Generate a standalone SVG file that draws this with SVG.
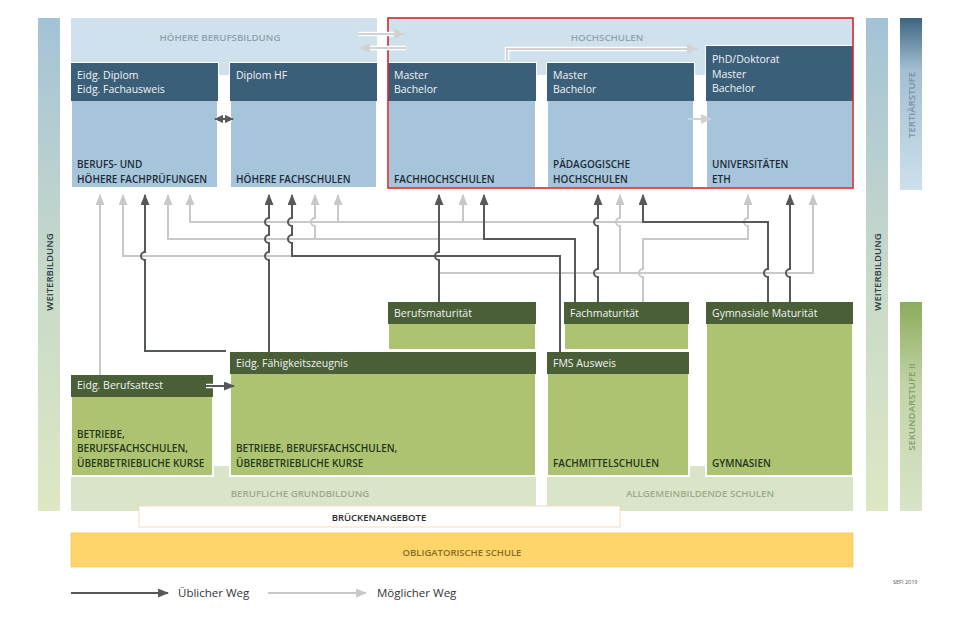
<svg xmlns="http://www.w3.org/2000/svg" width="960" height="621" viewBox="0 0 960 621">
<defs>
<style>
text{font-family:"Open Sans","Noto Sans",sans-serif}
.hd{font-size:10.5px;fill:#eef3f6}
.bt{font-size:10px;font-weight:600;fill:#1d2b38}
.gt{font-size:10px;font-weight:600;fill:#26361a}
.band{font-size:9.7px;font-weight:600;text-anchor:middle}
.rot{font-size:9.6px;font-weight:600;text-anchor:middle}
.bbody{fill:#a7c5da;stroke:#fff;stroke-width:2}
.bhead{fill:#3c5f79}
.gbody{fill:#adc372;stroke:#fff;stroke-width:2}
.ghead{fill:#4b5f37}
.dk{fill:none;stroke:#55595c;stroke-width:2}
.lt{fill:none;stroke:#c8c8c8;stroke-width:2}
.halo{fill:none;stroke:#fff;stroke-width:4.5}
</style>
<marker id="ad" markerUnits="userSpaceOnUse" markerWidth="11" markerHeight="9" refX="10" refY="4.5" orient="auto" viewBox="0 0 11 9"><path d="M0,0 L11,4.5 L0,9 z" fill="#55595c"/></marker>
<marker id="ads" markerUnits="userSpaceOnUse" markerWidth="9" markerHeight="8" refX="8" refY="4" orient="auto-start-reverse" viewBox="0 0 9 8"><path d="M0,0 L9,4 L0,8 z" fill="#55595c"/></marker>
<marker id="al" markerUnits="userSpaceOnUse" markerWidth="11" markerHeight="9" refX="10" refY="4.5" orient="auto" viewBox="0 0 11 9"><path d="M0,0 L11,4.5 L0,9 z" fill="#c8c8c8"/></marker>
<marker id="alw" markerUnits="userSpaceOnUse" markerWidth="11" markerHeight="10" refX="10" refY="5" orient="auto" viewBox="0 0 11 10"><path d="M0,0 L11,5 L0,10 z" fill="#d2d2d2"/></marker>
<linearGradient id="gWB" x1="0" y1="0" x2="0" y2="1">
<stop offset="0" stop-color="#a3c3d6"/><stop offset="0.55" stop-color="#c9dac9"/><stop offset="1" stop-color="#dde7c2"/>
</linearGradient>
<linearGradient id="gT" x1="0" y1="0" x2="0" y2="1">
<stop offset="0" stop-color="#3d6580"/><stop offset="0.3" stop-color="#a3bfd2"/><stop offset="1" stop-color="#cde0ec"/>
</linearGradient>
<linearGradient id="gS" x1="0" y1="0" x2="0" y2="1">
<stop offset="0" stop-color="#8bac5b"/><stop offset="0.4" stop-color="#c2d4a6"/><stop offset="1" stop-color="#d9e4c8"/>
</linearGradient>
</defs>
<rect width="960" height="621" fill="#fff"/>

<g id="side-bars">
<rect x="38" y="18" width="22" height="493" fill="url(#gWB)"/>
<text class="rot" fill="#2e3c44" transform="translate(52.5,272) rotate(-90)">WEITERBILDUNG</text>
<rect x="866" y="18" width="22" height="493" fill="url(#gWB)"/>
<text class="rot" fill="#2e3c44" transform="translate(880.5,272) rotate(-90)">WEITERBILDUNG</text>
<rect x="900" y="18" width="22" height="172" fill="url(#gT)"/>
<text class="rot" fill="#7891a5" transform="translate(914.5,105) rotate(-90)">TERTIÄRSTUFE</text>
<rect x="900" y="302" width="22" height="209" fill="url(#gS)"/>
<text class="rot" fill="#869b70" transform="translate(914.5,407) rotate(-90)">SEKUNDARSTUFE II</text>
</g>

<g id="bands">
<rect x="71" y="18" width="306" height="57" fill="#cfe1ec"/>
<text class="band" x="220" y="41" fill="#8ea2b0">HÖHERE BERUFSBILDUNG</text>
<rect x="388" y="18" width="465" height="57" fill="#cfe1ec"/>
<text class="band" x="607" y="41" fill="#8ea2b0">HOCHSCHULEN</text>
<rect x="71" y="466" width="465" height="45" fill="#d9e4c9"/>
<text class="band" x="300" y="497" fill="#9cac8a">BERUFLICHE GRUNDBILDUNG</text>
<rect x="547" y="466" width="306" height="45" fill="#d9e4c9"/>
<text class="band" x="700" y="497" fill="#9cac8a">ALLGEMEINBILDENDE SCHULEN</text>
</g>

<g id="n-berufspruefungen">
<rect class="bbody" x="71" y="63" width="147" height="125"/>
<rect class="bhead" x="71" y="63" width="147" height="38"/>
<text class="hd" x="77" y="79">Eidg. Diplom</text>
<text class="hd" x="77" y="93">Eidg. Fachausweis</text>
<text class="bt" x="77" y="168">BERUFS- UND</text>
<text class="bt" x="77" y="183">HÖHERE FACHPRÜFUNGEN</text>
</g>
<g id="n-hf">
<rect class="bbody" x="230" y="63" width="147" height="125"/>
<rect class="bhead" x="230" y="63" width="147" height="38"/>
<text class="hd" x="236" y="79">Diplom HF</text>
<text class="bt" x="236" y="183">HÖHERE FACHSCHULEN</text>
</g>
<g id="n-fh">
<rect class="bbody" x="388" y="63" width="148" height="125"/>
<rect class="bhead" x="388" y="63" width="148" height="38"/>
<text class="hd" x="394" y="79">Master</text>
<text class="hd" x="394" y="93">Bachelor</text>
<text class="bt" x="394" y="183">FACHHOCHSCHULEN</text>
</g>
<g id="n-ph">
<rect class="bbody" x="547" y="63" width="147" height="125"/>
<rect class="bhead" x="547" y="63" width="147" height="38"/>
<text class="hd" x="553" y="79">Master</text>
<text class="hd" x="553" y="93">Bachelor</text>
<text class="bt" x="553" y="168">PÄDAGOGISCHE</text>
<text class="bt" x="553" y="183">HOCHSCHULEN</text>
</g>
<g id="n-uni">
<rect class="bbody" x="706" y="46" width="147" height="142"/>
<rect class="bhead" x="706" y="46" width="147" height="55"/>
<text class="hd" x="712" y="63">PhD/Doktorat</text>
<text class="hd" x="712" y="78">Master</text>
<text class="hd" x="712" y="92">Bachelor</text>
<text class="bt" x="712" y="168">UNIVERSITÄTEN</text>
<text class="bt" x="712" y="183">ETH</text>
</g>
<rect id="hochschulen-frame" x="388" y="18" width="465" height="170" fill="none" stroke="#d9252b" stroke-width="1.6"/>

<g id="n-berufsmaturitaet">
<rect class="gbody" x="388" y="302" width="148" height="48"/>
<rect class="ghead" x="388" y="302" width="148" height="22"/>
<text class="hd" x="394" y="317">Berufsmaturität</text>
</g>
<g id="n-fachmaturitaet">
<rect class="gbody" x="564" y="302" width="125" height="48"/>
<rect class="ghead" x="564" y="302" width="125" height="22"/>
<text class="hd" x="570" y="317">Fachmaturität</text>
</g>
<g id="n-gym">
<rect class="gbody" x="706" y="302" width="147" height="174"/>
<rect class="ghead" x="706" y="302" width="147" height="22"/>
<text class="hd" x="712" y="317">Gymnasiale Maturität</text>
<text class="gt" x="712" y="467">GYMNASIEN</text>
</g>
<g id="n-efz">
<rect class="gbody" x="230" y="352" width="306" height="124"/>
<rect class="ghead" x="230" y="352" width="306" height="22"/>
<text class="hd" x="236" y="367">Eidg. Fähigkeitszeugnis</text>
<text class="gt" x="236" y="452">BETRIEBE, BERUFSFACHSCHULEN,</text>
<text class="gt" x="236" y="467">ÜBERBETRIEBLICHE KURSE</text>
</g>
<g id="n-fms">
<rect class="gbody" x="547" y="352" width="142" height="124"/>
<rect class="ghead" x="547" y="352" width="142" height="22"/>
<text class="hd" x="553" y="367">FMS Ausweis</text>
<text class="gt" x="553" y="467">FACHMITTELSCHULEN</text>
</g>
<g id="n-eba">
<rect class="gbody" x="71" y="375" width="142" height="101"/>
<rect class="ghead" x="71" y="375" width="142" height="22"/>
<text class="hd" x="77" y="389">Eidg. Berufsattest</text>
<text class="gt" x="77" y="438">BETRIEBE,</text>
<text class="gt" x="77" y="452">BERUFSFACHSCHULEN,</text>
<text class="gt" x="77" y="467">ÜBERBETRIEBLICHE KURSE</text>
</g>

<g id="n-brueckenangebote">
<rect x="139" y="506" width="481" height="21" fill="#fff" stroke="#f5dcc2" stroke-width="1"/>
<text x="379" y="521" font-size="9.5" font-weight="600" fill="#2a2a2a" text-anchor="middle">BRÜCKENANGEBOTE</text>
</g>
<g id="n-obligatorische">
<rect x="71" y="533" width="782" height="34" fill="#fdd56b" stroke="#f1c85c" stroke-width="0.8"/>
<text x="462" y="556" font-size="9.5" font-weight="600" fill="#8a6a25" text-anchor="middle">OBLIGATORISCHE SCHULE</text>
</g>

<g id="connectors">
<path class="halo" d="M358 34 H402"/>
<path d="M358 34 H404" fill="none" stroke="#d2d2d2" stroke-width="2" marker-end="url(#alw)"/>
<path class="halo" d="M406 48 H364"/>
<path d="M406 48 H360" fill="none" stroke="#d2d2d2" stroke-width="2" marker-end="url(#alw)"/>
<path class="halo" d="M507 60 V49 H694"/>
<path d="M507 60 V49 H697" fill="none" stroke="#d2d2d2" stroke-width="2" marker-end="url(#alw)"/>
<path d="M688 119 H711" fill="none" stroke="#d2d2d2" stroke-width="2" marker-end="url(#alw)"/>
<path class="halo" d="M216 119 H232"/>
<path d="M215 119 H233" class="dk" marker-start="url(#ads)" marker-end="url(#ads)"/>
<path class="halo" d="M206 386 H230"/>
<path d="M206 386 H234" class="dk" marker-end="url(#ad)"/>

<path class="lt" d="M100 375 V195" marker-end="url(#al)"/>
<path class="lt" d="M292 256 H123 V195" marker-end="url(#al)"/>
<path class="lt" d="M484 239 H168 V195" marker-end="url(#al)"/>
<path class="lt" d="M643 222 H190 V195" marker-end="url(#al)"/>
<path class="lt" d="M315 239 V226 A4 4 0 0 1 315 218 V195" marker-end="url(#al)"/>
<path class="lt" d="M338 222 V195" marker-end="url(#al)"/>
<path class="lt" d="M463 222 V195" marker-end="url(#al)"/>
<path class="lt" d="M439 273 H813 V195" marker-end="url(#al)"/>
<path class="lt" d="M620 273 V226 A4 4 0 0 1 620 218 V195" marker-end="url(#al)"/>
<path class="lt" d="M643 302 V277 A4 4 0 0 1 643 269 V239 H748 V226 A4 4 0 0 1 748 218 V195" marker-end="url(#al)"/>

<path class="dk" d="M226 351 H145 V260 A4 4 0 0 1 145 252 V195" marker-end="url(#ad)"/>
<path class="dk" d="M269 352 V260 A4 4 0 0 1 269 252 V243 A4 4 0 0 1 269 235 V226 A4 4 0 0 1 269 218 V195" marker-end="url(#ad)"/>
<path class="dk" d="M560 352 V256 H292 V243 A4 4 0 0 1 292 235 V226 A4 4 0 0 1 292 218 V195" marker-end="url(#ad)"/>
<path class="dk" d="M439 302 V260 A4 4 0 0 1 439 252 V195" marker-end="url(#ad)"/>
<path class="dk" d="M575 302 V239 H484 V195" marker-end="url(#ad)"/>
<path class="dk" d="M598 302 V277 A4 4 0 0 1 598 269 V226 A4 4 0 0 1 598 218 V195" marker-end="url(#ad)"/>
<path class="dk" d="M768 302 V277 A4 4 0 0 1 768 269 V222 H643 V195" marker-end="url(#ad)"/>
<path class="dk" d="M790 302 V277 A4 4 0 0 1 790 269 V195" marker-end="url(#ad)"/>
</g>

<g id="legend">
<path class="dk" d="M71 593 H168" marker-end="url(#ad)"/>
<text x="178" y="597" font-size="11.5" fill="#333">Üblicher Weg</text>
<path class="lt" d="M268 593 H366" marker-end="url(#al)"/>
<text x="377" y="597" font-size="11.5" fill="#333">Möglicher Weg</text>
<text x="893" y="584" font-size="5.5" fill="#555">SEFI 2019</text>
</g>
</svg>
